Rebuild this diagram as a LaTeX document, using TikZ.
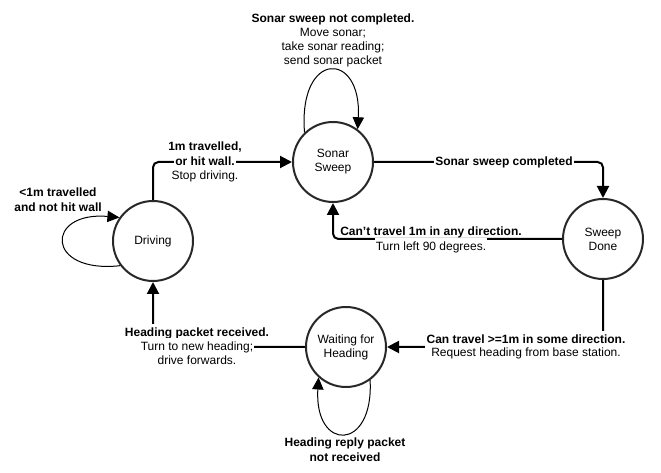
\documentclass[tikz,border=0pt]{standalone}
\usepackage{fontspec}
\setmainfont{Liberation Sans}
\usetikzlibrary{arrows.meta}
\definecolor{ring}{RGB}{40,40,40}
\begin{document}
\begin{tikzpicture}[x=0.75pt,y=-0.75pt,
  state/.style={circle,draw=ring,line width=1.5pt,minimum size=60pt,inner sep=0pt,
    align=center,font=\fontsize{9}{10.5}\selectfont},
  edge/.style={line width=1.5pt,-{Triangle[length=9pt,width=9pt]},rounded corners=4pt},
  selfloop/.style={line width=0.75pt,-{Triangle[length=9pt,width=8.5pt]}},
  lbl/.style={font=\fontsize{9}{10.5}\selectfont,inner xsep=1pt,inner ysep=1pt,
    fill=white,text height=7.5pt,text depth=2.5pt},
  blbl/.style={lbl,font=\fontsize{9}{10.5}\selectfont\bfseries}
]
\useasboundingbox[fill=white] (0,0) rectangle (661,473);

\node[state] (drv) at (153,241) {Driving};
\node[state] (ss) at (333,162) {Sonar\\Sweep};
\node[state] (sd) at (603,239) {Sweep\\Done};
\node[state] (wh) at (346,347) {Waiting for\\Heading};

% Driving -> Sonar Sweep
\draw[edge] (drv.north) |- (ss.west);
\node[blbl] (l1a) at (205,147) {1m travelled,};
\node[blbl] (l1b) at (205,162) {or hit wall.};
\node[lbl] (l1c) at (205,176) {Stop driving.};

% Sonar Sweep -> Sweep Done
\draw[edge] (ss.east) -| (sd.north);
\node[blbl] (l2) at (504,162) {Sonar sweep completed};

% Sweep Done -> Sonar Sweep
\draw[edge] (sd.west) -| (ss.south);
\node[blbl,fill=none] (l3a) at (431,232) {Can't travel 1m in any direction.};
\node[lbl,inner ysep=1.6pt] (l3b) at (431,247) {Turn left 90 degrees.};

% Sweep Done -> Waiting for Heading
\draw[edge] (sd.south) |- (wh.east);
\node[blbl,inner ysep=2pt] (l4a) at (526,340) {Can travel >=1m in some direction.};
\node[lbl] (l4b) at (526,353) {Request heading from base station.};

% Waiting for Heading -> Driving
\draw[edge] (wh.west) -| (drv.south);
\node[blbl,inner ysep=2pt] (l5a) at (197,333) {Heading packet received.};
\node[lbl,inner ysep=1.5pt] (l5b) at (197,347) {Turn to new heading;};
\node[lbl] (l5c) at (197,361) {drive forwards.};

% self loops
\draw[selfloop] (drv.217) .. controls (45,274) and (45,211) .. (drv.145);
\node[blbl,fill=none] (l6a) at (58,193) {<1m travelled};
\node[blbl,fill=none] (l6b) at (58,208) {and not hit wall};

\draw[selfloop] (ss.134) .. controls (298,50) and (362,50) .. (ss.53);
\node[blbl,fill=none] (l7a) at (333,19) {Sonar sweep not completed.};
\node[lbl,fill=none] (l7b) at (333,33) {Move sonar;};
\node[lbl,fill=none] (l7c) at (333,47) {take sonar reading;};
\node[lbl,fill=none] (l7d) at (333,61) {send sonar packet};

\draw[selfloop] (wh.306) .. controls (374,452) and (314,452) .. (wh.228);
\node[blbl,fill=none] (l8a) at (345,443) {Heading reply packet};
\node[blbl,fill=none] (l8b) at (345,458) {not received};
\end{tikzpicture}
\end{document}
